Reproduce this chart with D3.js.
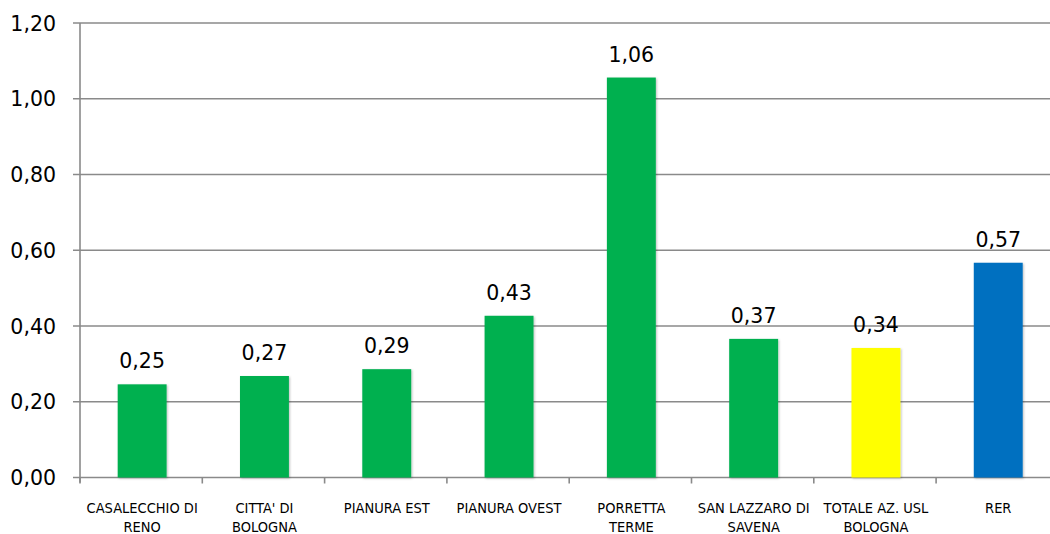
<!DOCTYPE html>
<html><head><meta charset="utf-8">
<script src="https://cdn.jsdelivr.net/npm/d3@7"></script>
<style>body{margin:0;background:#fff;overflow:hidden}svg{display:block}</style>
</head><body><svg id="c" width="1050" height="534"></svg>
<script>
const categories = ["CASALECCHIO DI\nRENO", "CITTA' DI\nBOLOGNA", "PIANURA EST", "PIANURA OVEST", "PORRETTA\nTERME", "SAN LAZZARO DI\nSAVENA", "TOTALE AZ. USL\nBOLOGNA", "RER"];
const values = [0.246, 0.268, 0.286, 0.427, 1.056, 0.366, 0.342, 0.567];
const barColors = ["#00B050", "#00B050", "#00B050", "#00B050", "#00B050", "#00B050", "#FFFF00", "#0070C0"];
const yTicks = [0, 0.2, 0.4, 0.6, 0.8, 1.0, 1.2];

const svg = d3.select("#c");
const x0 = 80, yBottom = 477.5, yTop = 23, step = 122.3;
const x = d3.scaleBand().domain(categories).range([x0, x0 + step * categories.length]).paddingInner(0.6).paddingOuter(0.3);
const y = d3.scaleLinear().domain([0, 1.2]).range([yBottom, yTop]);
const fmt = v => d3.format(".2f")(v).replace(".", ",");

// gridlines
svg.append("g").selectAll("line").data(yTicks).join("line")
  .attr("x1", 73).attr("x2", 1070).attr("y1", d => y(d)).attr("y2", d => y(d))
  .attr("stroke", "#8a8a8a").attr("stroke-width", 1.6);

// y axis line
svg.append("line").attr("x1", x0).attr("x2", x0).attr("y1", yTop).attr("y2", yBottom + 5)
  .attr("stroke", "#8a8a8a").attr("stroke-width", 1.6);

// y labels
svg.append("g").selectAll("text").data(yTicks).join("text")
  .attr("x", 56).attr("y", d => y(d) + 7.5)
  .attr("text-anchor", "end").attr("font-family", "DejaVu Sans").attr("font-size", 20.5).attr("fill", "#000")
  .text(d => fmt(d));

// category boundary ticks
const bounds = d3.range(categories.length + 1).map(i => x0 + i * step);
svg.append("g").selectAll("line").data(bounds).join("line")
  .attr("x1", d => d).attr("x2", d => d).attr("y1", yBottom).attr("y2", yBottom + 6)
  .attr("stroke", "#8a8a8a").attr("stroke-width", 1.6);

// shadow filter
const defs = svg.append("defs");
const f = defs.append("filter").attr("id", "sh").attr("x", "-20%").attr("y", "-20%").attr("width", "140%").attr("height", "140%");
f.append("feDropShadow").attr("dx", 1).attr("dy", 1).attr("stdDeviation", 1.2).attr("flood-color", "#000").attr("flood-opacity", 0.25);

// bars
svg.append("g").selectAll("rect").data(values).join("rect")
  .attr("x", (d, i) => x(categories[i]) + 1).attr("width", x.bandwidth())
  .attr("y", d => y(d)).attr("height", d => yBottom - y(d))
  .attr("fill", (d, i) => barColors[i]).attr("filter", "url(#sh)");

// value labels
svg.append("g").selectAll("text").data(values).join("text")
  .attr("x", (d, i) => x(categories[i]) + 1 + x.bandwidth() / 2).attr("y", d => y(d) - 16)
  .attr("text-anchor", "middle").attr("font-family", "DejaVu Sans").attr("font-size", 20.5).attr("fill", "#000")
  .text(d => fmt(d));

// category labels
const cl = svg.append("g").selectAll("text").data(categories).join("text")
  .attr("text-anchor", "middle").attr("font-family", "DejaVu Sans Condensed, DejaVu Sans").attr("font-size", 14.5)
  .attr("fill", "#000");
cl.each(function(d) {
  const t = d3.select(this);
  const cx = x(d) + 1 + x.bandwidth() / 2;
  d.split("\n").forEach((line, k) => {
    t.append("tspan").attr("x", cx).attr("y", 513 + k * 19).text(line);
  });
});
</script></body></html>
